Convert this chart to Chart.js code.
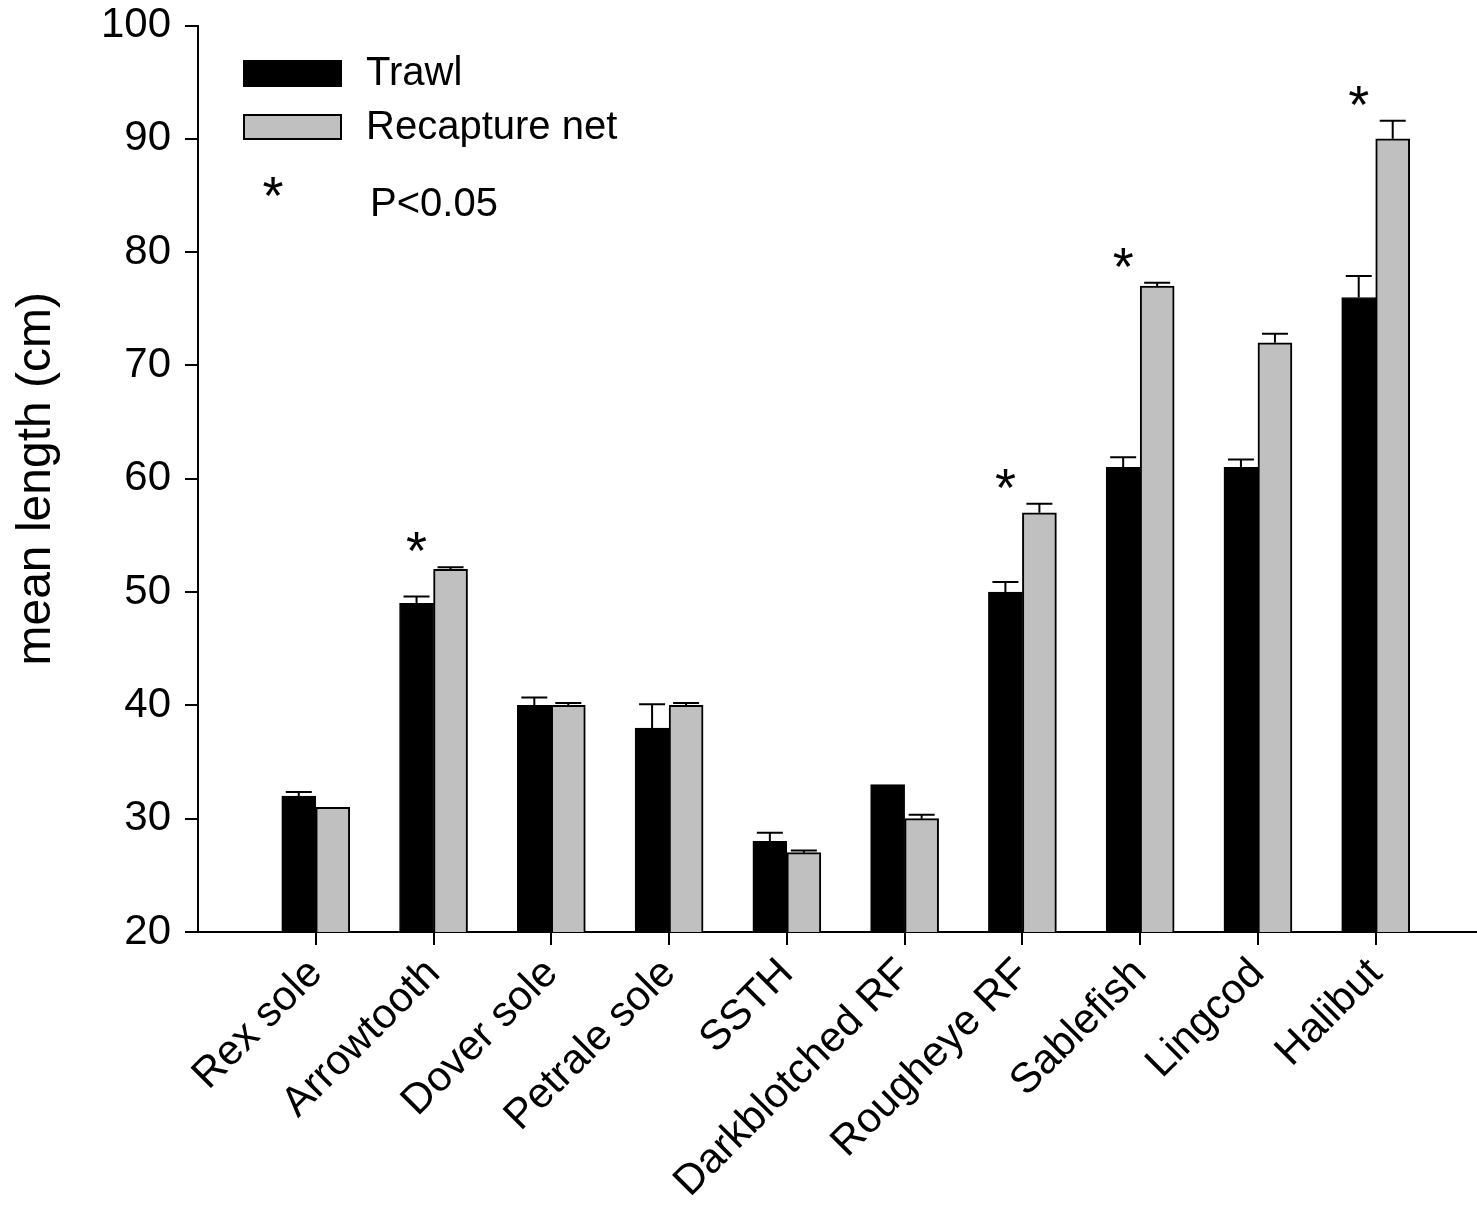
<!DOCTYPE html>
<html>
<head>
<meta charset="utf-8">
<script src="https://cdn.jsdelivr.net/npm/chart.js@4/dist/chart.umd.min.js"></script>
<style>
html,body{margin:0;padding:0;background:#fff;overflow:hidden;}
#wrap{width:1477px;height:1205px;}
</style>
</head>
<body>
<div id="wrap"><canvas id="c" width="1477" height="1205"></canvas></div>
<script>
const categories = ['Rex sole','Arrowtooth','Dover sole','Petrale sole','SSTH','Darkblotched RF','Rougheye RF','Sablefish','Lingcod','Halibut'];
const trawl      = [32, 49, 40, 38, 28, 33, 50, 61, 61, 76];
const trawlErr   = [0.35, 0.6, 0.7, 2.1, 0.75, 0, 0.9, 0.9, 0.7, 1.9];
const recapture  = [31, 52, 40, 40, 27, 30, 57, 77, 72, 90];
const recapErr   = [0, 0.2, 0.2, 0.2, 0.2, 0.35, 0.8, 0.3, 0.8, 1.6];
const significant = [false, true, false, false, false, false, true, true, false, true];
const seriesNames = ['Trawl', 'Recapture net'];
const yTicks = [20, 30, 40, 50, 60, 70, 80, 90, 100];

const FONT = '"Liberation Sans", Arial, Helvetica, sans-serif';
const errs = [trawlErr, recapErr];
const vals = [trawl, recapture];

const errorBarPlugin = {
  id: 'errorBars',
  afterDatasetsDraw(chart) {
    const ctx = chart.ctx;
    const y = chart.scales.y;
    ctx.save();
    ctx.strokeStyle = '#000';
    ctx.lineWidth = 2;
    chart.data.datasets.forEach((ds, di) => {
      const meta = chart.getDatasetMeta(di);
      meta.data.forEach((el, i) => {
        const e = errs[di][i];
        if (!e) return;
        const top = y.getPixelForValue(vals[di][i] + e);
        ctx.beginPath();
        ctx.moveTo(el.x, el.y);
        ctx.lineTo(el.x, top);
        ctx.moveTo(el.x - 13, top);
        ctx.lineTo(el.x + 13, top);
        ctx.stroke();
      });
    });
    ctx.fillStyle = '#000';
    ctx.font = '54px ' + FONT;
    ctx.textAlign = 'center';
    ctx.textBaseline = 'alphabetic';
    const m0 = chart.getDatasetMeta(0);
    significant.forEach((s, i) => {
      if (!s) return;
      const topVal = Math.max(trawl[i] + trawlErr[i], recapture[i] + recapErr[i]);
      const py = y.getPixelForValue(topVal) - 22;
      ctx.fillText('*', m0.data[i].x, py + 24);
    });
    ctx.restore();
  }
};

const legendPlugin = {
  id: 'customLegend',
  afterDraw(chart) {
    const ctx = chart.ctx;
    ctx.save();
    ctx.fillStyle = '#000';
    ctx.fillRect(243, 60, 99, 27);
    ctx.fillStyle = '#c0c0c0';
    ctx.fillRect(243, 114, 99, 26);
    ctx.strokeStyle = '#000';
    ctx.lineWidth = 2;
    ctx.strokeRect(244, 115, 97, 24);
    ctx.fillStyle = '#000';
    ctx.font = '40px ' + FONT;
    ctx.textAlign = 'left';
    ctx.textBaseline = 'middle';
    ctx.fillText(seriesNames[0], 366, 74);
    ctx.fillText(seriesNames[1], 366, 128);
    ctx.fillText('P<0.05', 370, 205);
    ctx.font = '54px ' + FONT;
    ctx.textAlign = 'center';
    ctx.textBaseline = 'alphabetic';
    ctx.fillText('*', 273, 214);
    ctx.restore();
  }
};

new Chart(document.getElementById('c'), {
  type: 'bar',
  data: {
    datasets: [
      {
        label: seriesNames[0],
        data: trawl.map((v, i) => ({x: i, y: v})),
        backgroundColor: '#000000',
        borderColor: '#000000',
        borderWidth: 1,
        barThickness: 34
      },
      {
        label: seriesNames[1],
        data: recapture.map((v, i) => ({x: i, y: v})),
        backgroundColor: '#c0c0c0',
        borderColor: '#000000',
        borderWidth: 2,
        barThickness: 34
      }
    ]
  },
  options: {
    responsive: false,
    animation: false,
    layout: {padding: {top: 0, right: 0, left: 0, bottom: 0}},
    plugins: {legend: {display: false}, tooltip: {enabled: false}},
    scales: {
      x: {
        type: 'linear',
        offset: false,
        min: -1,
        max: 9.86,
        afterBuildTicks: s => { s.ticks = categories.map((_, i) => ({value: i})); },
        afterFit: s => { s.height = 273; },
        grid: {offset: false, drawOnChartArea: false, drawTicks: true, tickLength: 13, color: '#000', lineWidth: 2},
        border: {display: true, color: '#000', width: 2},
        ticks: {
          autoSkip: false,
          maxRotation: 45,
          minRotation: 45,
          padding: 4,
          color: '#000',
          font: {family: FONT, size: 42},
          callback: v => categories[v] ?? ''
        }
      },
      y: {
        min: 20,
        max: 100,
        afterBuildTicks: s => { s.ticks = yTicks.map(v => ({value: v})); },
        afterFit: s => { s.width = 198; },
        grid: {drawOnChartArea: false, drawTicks: true, tickLength: 13, color: '#000', lineWidth: 2},
        border: {display: true, color: '#000', width: 2},
        ticks: {
          padding: 14,
          color: '#000',
          font: {family: FONT, size: 42, lineHeight: 0.55}
        },
        title: {
          display: true,
          text: 'mean length (cm)',
          color: '#000',
          font: {family: FONT, size: 48},
          padding: {top: 8, bottom: 0}
        }
      }
    }
  },
  plugins: [errorBarPlugin, legendPlugin]
});
</script>
</body>
</html>
